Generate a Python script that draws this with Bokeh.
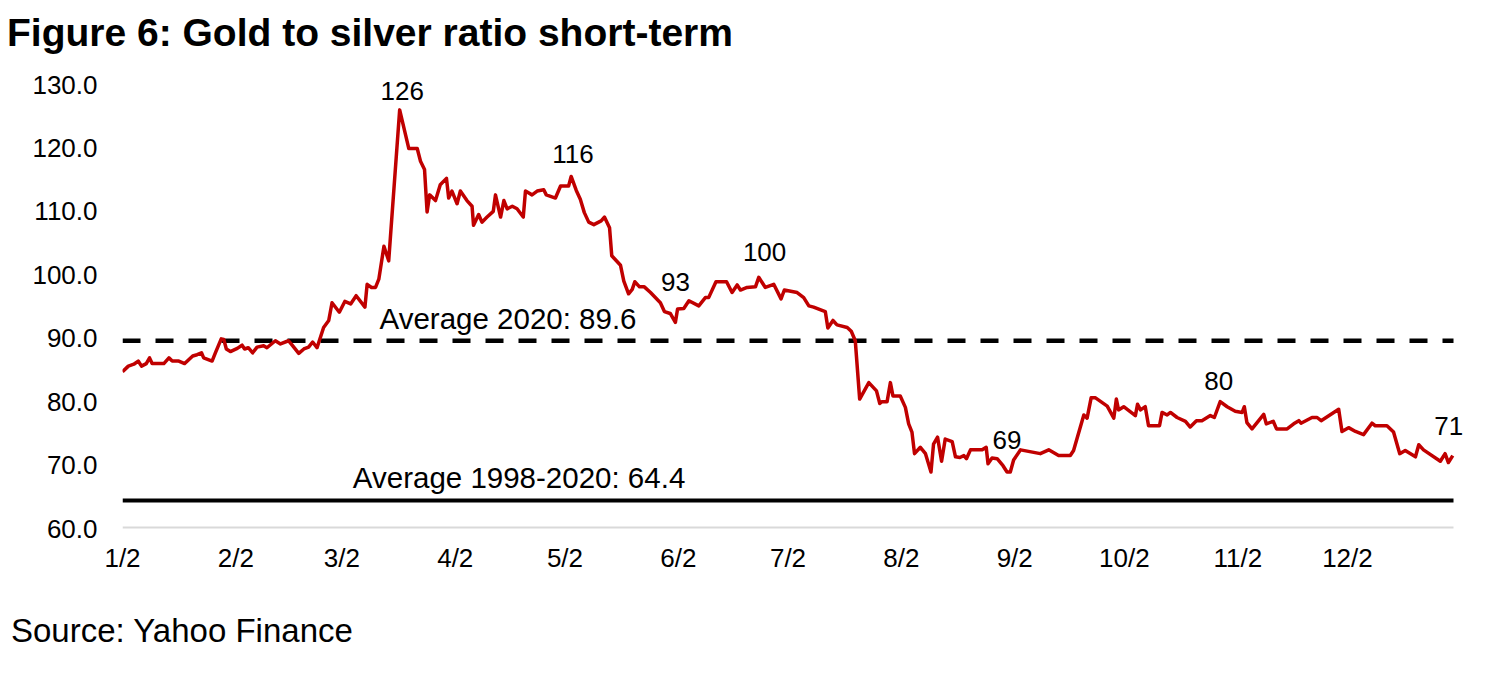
from bokeh.plotting import figure
from bokeh.models import Range1d, FixedTicker, PrintfTickFormatter, Label, Div
from bokeh.layouts import column
from bokeh.embed import file_html
from bokeh.resources import INLINE

# Day offsets from 2 January 2020 and the gold/silver ratio
days = [0, 1.6, 3.1, 4.3, 5.2, 6.5, 7.4, 8.1, 11.3, 12.7, 13.6, 15.4, 17.0, 19.2, 20.4, 21.6,
        22.2, 24.5, 25.4, 27.0, 27.7, 28.4, 29.5, 31.4, 32.7, 33.4, 34.4, 35.6, 36.8, 38.6,
        39.5, 41.8, 43.2, 45.4, 46.4, 48.2, 49.6, 50.9, 52.0, 53.2, 55.0, 56.4, 57.3, 59.3,
        60.8, 62.4, 63.9, 66.3, 66.9, 68.1, 69.2, 70.1, 71.5, 72.8, 75.8, 78.3, 79.6, 80.6,
        81.5, 82.6, 83.3, 84.0, 85.6, 86.9, 88.6, 89.2, 90.1, 91.5, 92.4, 94.2, 95.6, 96.0,
        97.4, 98.3, 99.7, 101.4, 102.0, 103.4, 104.3, 105.2, 106.6, 107.9, 109.6, 110.2,
        112.0, 113.4, 115.2, 115.9, 118.4, 119.8, 122.0, 122.7, 124.1, 125.2, 126.3, 127.5,
        128.9, 130.9, 131.8, 133.2, 133.8, 136.2, 137.1, 138.4, 139.4, 140.1, 141.4, 142.7,
        144.4, 147.1, 148.2, 149.8, 151.2, 151.8, 153.5, 154.9, 157.6, 159.4, 160.3, 162.3,
        165.2, 166.7, 168.1, 169.0, 170.8, 173.1, 174.0, 175.8, 178.1, 180.1, 181.0, 184.5,
        186.3, 187.7, 189.0, 192.2, 192.9, 194.3, 195.4, 198.2, 199.3, 200.4, 201.6, 204.1,
        206.2, 207.1, 207.7, 209.1, 210.0, 210.7, 212.7, 214.1, 215.0, 215.9, 216.6, 218.2,
        219.6, 221.1, 221.8, 222.9, 224.0, 225.0, 226.9, 227.8, 229.0, 230.1, 230.8, 231.9,
        235.1, 236.2, 236.7, 237.8, 239.2, 240.8, 241.9, 242.8, 243.7, 245.6, 251.0, 253.3,
        256.0, 259.2, 260.1, 262.9, 263.8, 264.9, 266.1, 269.3, 271.1, 271.8, 272.4, 273.8,
        277.0, 277.6, 278.4, 279.7, 280.6, 283.6, 284.3, 285.7, 286.6, 288.4, 290.7, 292.0,
        293.7, 295.2, 297.5, 298.6, 300.2, 302.1, 304.3, 306.2, 306.8, 307.5, 308.9, 312.1,
        312.8, 314.7, 315.6, 318.5, 320.3, 321.7, 322.3, 325.3, 326.7, 327.8, 332.6, 333.5,
        335.3, 337.2, 339.4, 341.7, 342.6, 345.8, 347.6, 349.3, 350.8, 353.6, 354.5, 355.8,
        360.4, 361.7, 362.6, 363.8]
ratio = [84.7, 85.6, 85.9, 86.4, 85.6, 86.0, 86.9, 86.0, 86.0, 86.9, 86.4, 86.4, 86.0, 87.2,
         87.4, 87.7, 86.9, 86.4, 87.7, 89.9, 89.8, 88.3, 87.9, 88.4, 88.9, 88.3, 88.5, 87.7,
         88.6, 88.8, 88.5, 89.6, 89.1, 89.6, 88.9, 87.6, 88.3, 88.6, 89.4, 88.5, 91.7, 92.8,
         95.6, 94.1, 95.8, 95.4, 96.7, 94.9, 98.5, 98.0, 98.0, 99.3, 104.5, 102.2, 126.0,
         119.9, 119.9, 119.9, 117.9, 116.6, 109.9, 112.6, 111.7, 114.2, 115.2, 112.1, 113.2,
         111.2, 113.2, 111.7, 110.8, 107.8, 109.5, 108.3, 109.1, 110.0, 112.6, 109.1, 111.7,
         110.4, 110.8, 110.4, 109.1, 113.2, 112.6, 113.2, 113.4, 112.6, 112.1, 114.0, 114.0,
         115.5, 113.3, 111.9, 109.8, 108.3, 107.9, 108.5, 109.1, 107.4, 103.0, 101.5, 99.0,
         97.0, 97.7, 98.9, 98.1, 98.1, 97.2, 95.6, 94.2, 93.9, 92.5, 94.6, 94.7, 95.9, 95.1,
         96.4, 96.4, 98.9, 98.9, 97.2, 98.4, 97.6, 98.0, 98.1, 99.6, 98.0, 98.5, 96.2, 97.6,
         97.2, 96.4, 95.1, 94.9, 94.2, 91.6, 92.8, 92.1, 91.7, 91.1, 89.6, 80.4, 83.0, 81.7,
         79.7, 80.0, 80.0, 83.0, 80.9, 80.9, 79.1, 76.5, 75.2, 71.8, 72.8, 71.8, 68.9, 73.3,
         74.4, 70.6, 74.1, 73.7, 71.3, 71.2, 71.5, 71.0, 72.4, 72.4, 72.8, 70.2, 71.1, 71.0,
         69.9, 68.9, 68.9, 70.8, 72.4, 71.8, 72.4, 71.5, 71.5, 72.3, 77.9, 77.4, 80.6, 80.6,
         79.3, 77.4, 80.4, 78.7, 79.2, 77.8, 79.6, 78.7, 79.2, 76.2, 76.2, 78.3, 77.9, 78.3,
         77.5, 76.9, 76.0, 77.0, 77.0, 77.8, 77.5, 80.0, 79.2, 78.5, 78.3, 79.2, 76.7, 75.7,
         78.0, 76.5, 76.9, 75.7, 75.7, 76.5, 77.0, 76.6, 77.5, 77.5, 77.0, 78.8, 75.3, 75.9,
         75.3, 74.8, 76.6, 76.2, 76.2, 75.2, 71.8, 72.3, 71.3, 73.2, 72.4, 70.6, 71.8, 70.4,
         71.5]

# Month ticks (day offsets of the 2nd of each month) and their labels
tick_days = [0, 31, 60, 91, 121, 152, 182, 213, 244, 274, 305, 335]
tick_labels = ["1/2", "2/2", "3/2", "4/2", "5/2", "6/2", "7/2", "8/2", "9/2", "10/2", "11/2", "12/2"]
axis_end_day = 364          # 31 December
y_ticks = [60, 70, 80, 90, 100, 110, 120, 130]
y_min, y_max = 60, 130

# Averages
avg_2020 = 89.6
avg_long = 64.4

# Point annotations: text, day, value (vertical centre of the text)
ann_text = ["126", "116", "93", "100", "69", "80", "71"]
ann_day = [76.5, 123.2, 151.2, 175.6, 241.9, 299.8, 362.7]
ann_val = [128.9, 119.0, 98.8, 103.6, 74.0, 83.2, 76.2]

FONT = "Liberation Sans"
PX_PER_DAY = 1331 / 364.0
PX_PER_UNIT = 444 / 70.0
FRAME_LEFT = 122
FIG_W = 1470
HEAD = 58            # space above the figure (title block)
FRAME_TOP_PAD = 26   # px between figure top and the 130 gridline position

title_div = Div(text="Figure 6: Gold to silver ratio short-term", width=900, height=HEAD - 11,
                margin=(11, 0, 0, 7),
                styles={"font-family": FONT, "font-size": "39px", "font-weight": "bold",
                        "color": "black", "line-height": "normal", "white-space": "nowrap"})

# extend the visible y range a little above 130 so the "126" label is not cut
p = figure(width=FIG_W, height=542, output_backend="svg", toolbar_location=None,
           x_range=Range1d(0, (FIG_W - FRAME_LEFT) / PX_PER_DAY),
           y_range=Range1d(y_min, y_max + FRAME_TOP_PAD / PX_PER_UNIT),
           min_border_left=FRAME_LEFT, min_border_right=0, min_border_top=0,
           min_border_bottom=72, margin=(0, 0, 0, 0))
p.outline_line_color = None
p.xgrid.grid_line_color = None
p.ygrid.grid_line_color = None
p.background_fill_color = "white"
p.border_fill_color = "white"

# axes
p.xaxis.ticker = FixedTicker(ticks=tick_days)
p.xaxis.major_label_overrides = {d: l for d, l in zip(tick_days, tick_labels)}
p.xaxis.axis_line_color = None
p.xaxis.major_tick_line_color = None
p.xaxis.minor_tick_line_color = None
p.xaxis.major_tick_out = 0
p.xaxis.major_label_standoff = 14
p.xaxis.major_label_text_font = FONT
p.xaxis.major_label_text_font_size = "26px"
p.xaxis.major_label_text_color = "black"

p.yaxis.ticker = FixedTicker(ticks=y_ticks)
p.yaxis.formatter = PrintfTickFormatter(format="%.1f")
p.yaxis.axis_line_color = None
p.yaxis.major_tick_line_color = None
p.yaxis.minor_tick_line_color = None
p.yaxis.major_tick_out = 0
p.yaxis.major_label_standoff = 25
p.yaxis.major_label_text_font = FONT
p.yaxis.major_label_text_font_size = "26px"
p.yaxis.major_label_text_color = "black"

# horizontal axis line (light gray) and average lines
p.line([0, axis_end_day], [y_min, y_min], line_color="#d9d9d9", line_width=4)
p.line([0, axis_end_day], [avg_2020, avg_2020], line_color="black", line_width=4.5,
       line_dash="18 15")
p.line([0, axis_end_day], [avg_long, avg_long], line_color="black", line_width=4)

# ratio line
p.line(days, ratio, line_color="#c00000", line_width=3.5, line_join="round")

# annotations
for t, d, v in zip(ann_text, ann_day, ann_val):
    p.add_layout(Label(x=d, y=v, text=t, text_align="center", text_baseline="middle",
                       text_font=FONT, text_font_size="26px", text_color="black"))

p.add_layout(Label(x=70.3, y=93.1, text="Average 2020: %.1f" % avg_2020, text_align="left",
                   text_baseline="middle", text_font=FONT, text_font_size="29.5px",
                   text_color="black"))
p.add_layout(Label(x=63.0, y=68.0, text="Average 1998-2020: %.1f" % avg_long, text_align="left",
                   text_baseline="middle", text_font=FONT, text_font_size="29.5px",
                   text_color="black"))

source_div = Div(text="Source: Yahoo Finance", width=600, height=45, margin=(12, 0, 0, 11),
                 styles={"font-family": FONT, "font-size": "33px", "color": "black",
                         "line-height": "normal", "white-space": "nowrap"})

layout = column(title_div, p, source_div, spacing=0)
open("out.html", "w").write(file_html(layout, INLINE))
